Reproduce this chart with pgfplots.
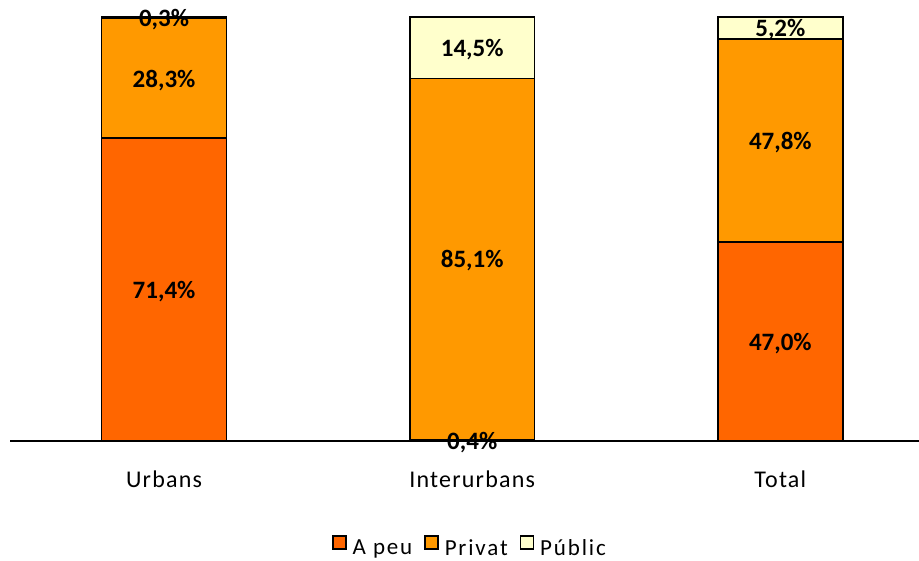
\documentclass[border=0pt]{standalone}
\usepackage{fontspec}
\setmainfont{Carlito}
\usepackage{pgfplots}
\usepackage{pgfplotstable}
\pgfplotsset{compat=1.18}
\definecolor{cpeu}{HTML}{FF6600}
\definecolor{cprivat}{HTML}{FF9900}
\definecolor{cpublic}{HTML}{FFFFCC}
% shares of each mode (%)
\pgfplotstableread{
x peu privat publ
0 71.4 28.3 0.3
1 0.4 85.1 14.5
2 47.0 47.8 5.2
}\datatable
% label positions (middle of each segment) and label texts
\pgfplotstableread{
x y lab
0 35.7 71,4\%
0 85.55 28,3\%
0 99.85 0,3\%
1 0.2 0,4\%
1 42.95 85,1\%
1 92.75 14,5\%
2 23.5 47,0\%
2 70.9 47,8\%
2 97.4 5,2\%
}\labtable
\pgfplotsset{common/.style={
  at={(0,0)}, anchor=south west,
  scale only axis, width=909pt, height=424pt,
  xmin=-0.5, xmax=2.45, ymin=0, ymax=100,
  clip=false}}
\begin{document}
\begin{tikzpicture}
\path[use as bounding box] (-10pt,-119pt) rectangle (909pt,441pt);
\begin{axis}[
  common,
  ybar stacked, bar width=0.405,
  axis x line*=bottom, axis y line=none,
  axis line style={line width=1.6pt, black},
  xtick={0,1,2}, xticklabels={Urbans,Interurbans,Total},
  major tick length=0pt,
  xticklabel style={font=\fontsize{24}{28}\selectfont\addfontfeature{LetterSpace=5}, anchor=base, yshift=-46pt},
  legend style={at={(0.506,-0.25)}, anchor=center, draw=none, fill=none,
    font=\fontsize{23}{27}\selectfont\addfontfeature{LetterSpace=8}, legend columns=3,
    /tikz/every even column/.append style={column sep=10pt},
    /tikz/every odd column/.append style={column sep=4pt}},
]
\addplot[fill=cpeu, draw=black, line width=1.6pt, legend image code/.code={\draw[draw=black, line width=1.5pt, fill=cpeu] (0pt,-1pt) rectangle (13pt,12pt);}] table[x=x, y=peu] {\datatable};
\addplot[fill=cprivat, draw=black, line width=1.6pt, legend image code/.code={\draw[draw=black, line width=1.5pt, fill=cprivat] (0pt,-1pt) rectangle (13pt,12pt);}] table[x=x, y=privat] {\datatable};
\addplot[fill=cpublic, draw=black, line width=1.6pt, legend image code/.code={\draw[draw=black, line width=1.5pt, fill=cpublic] (0pt,-1pt) rectangle (13pt,12pt);}] table[x=x, y=publ] {\datatable};
\legend{A peu, Privat, Públic}
\end{axis}
\begin{axis}[common, hide axis]
\addplot[draw=none, mark=none, nodes near coords, point meta=explicit symbolic,
  every node near coord/.append style={font=\fontsize{25}{29}\selectfont\bfseries, anchor=center, black, yshift=-2pt}]
  table[x=x, y=y, meta=lab] {\labtable};
\end{axis}
\end{tikzpicture}
\end{document}
